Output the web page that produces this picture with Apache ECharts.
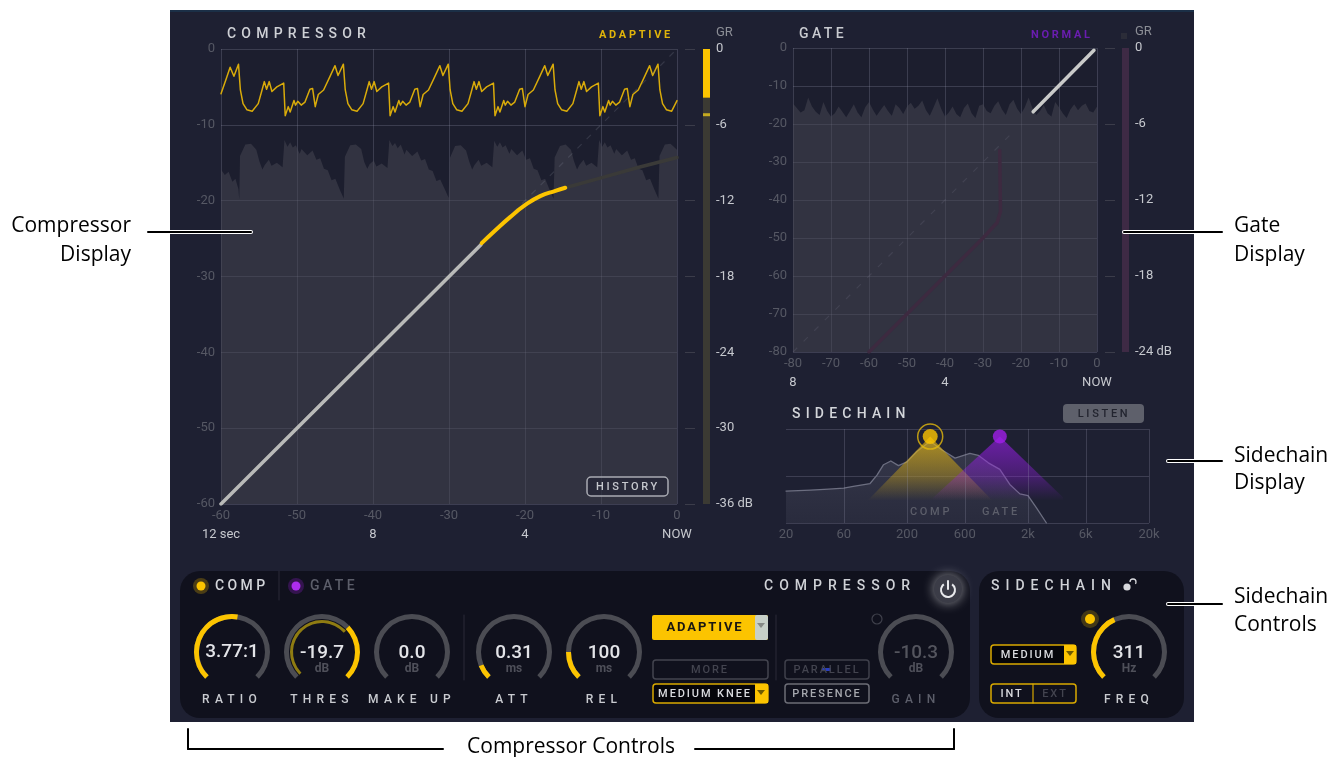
<!DOCTYPE html>
<html>
<head>
<meta charset="utf-8">
<style>
  html, body { margin: 0; padding: 0; background: #fff; }
  #main { width: 1344px; height: 757px; }
</style>
<script src="https://cdn.jsdelivr.net/npm/echarts@6/dist/echarts.min.js"></script>
</head>
<body>
<div id="main"></div>
<script>
// Compressor: [time position, dB]
var compGainHistory = [
  [-60,-5.9],[-59.3,-3.9],[-58.8,-2.4],[-58.3,-3.6],[-57.7,-2],
  [-57.45,-5.4],[-57.1,-7.2],[-56.6,-8],[-55.9,-8.2],[-55.1,-7.2],[-54.6,-5.4],[-54.3,-4.3],[-54,-5.3],[-53.65,-4.3],[-53.3,-5.6],[-52.65,-5],[-51.75,-4.5],[-51.55,-8.8],[-51.15,-7.6],[-50.9,-8.3],[-50.4,-6.8],[-50.2,-7.4],[-49.9,-6.9],[-49.45,-7.4],[-48.95,-7],[-48.3,-5.3],[-47.95,-5.2],[-47.6,-7.6],[-47.2,-6],[-46.5,-5.4],[-45.7,-3.7],[-45,-2.2],[-44.6,-3.5],[-43.9,-2],
  [-43.65,-5.4],[-43.3,-7.2],[-42.8,-8],[-42.1,-8.2],[-41.3,-7.2],[-40.8,-5.4],[-40.5,-4.3],[-40.2,-5.3],[-39.85,-4.3],[-39.5,-5.6],[-38.85,-5],[-37.95,-4.5],[-37.75,-8.8],[-37.35,-7.6],[-37.1,-8.3],[-36.6,-6.8],[-36.4,-7.4],[-36.1,-6.9],[-35.65,-7.4],[-35.15,-7],[-34.5,-5.3],[-34.15,-5.2],[-33.8,-7.6],[-33.4,-6],[-32.7,-5.4],[-31.9,-3.7],[-31.2,-2.2],[-30.8,-3.5],[-30.1,-2],
  [-29.85,-5.4],[-29.5,-7.2],[-29,-8],[-28.3,-8.2],[-27.5,-7.2],[-27,-5.4],[-26.7,-4.3],[-26.4,-5.3],[-26.05,-4.3],[-25.7,-5.6],[-25.05,-5],[-24.15,-4.5],[-23.95,-8.8],[-23.55,-7.6],[-23.3,-8.3],[-22.8,-6.8],[-22.6,-7.4],[-22.3,-6.9],[-21.85,-7.4],[-21.35,-7],[-20.7,-5.3],[-20.35,-5.2],[-20,-7.6],[-19.6,-6],[-18.9,-5.4],[-18.1,-3.7],[-17.4,-2.2],[-17,-3.5],[-16.3,-2],
  [-16.05,-5.4],[-15.7,-7.2],[-15.2,-8],[-14.5,-8.2],[-13.7,-7.2],[-13.2,-5.4],[-12.9,-4.3],[-12.6,-5.3],[-12.25,-4.3],[-11.9,-5.6],[-11.25,-5],[-10.35,-4.5],[-10.15,-8.8],[-9.75,-7.6],[-9.5,-8.3],[-9,-6.8],[-8.8,-7.4],[-8.5,-6.9],[-8.05,-7.4],[-7.55,-7],[-6.9,-5.3],[-6.55,-5.2],[-6.2,-7.6],[-5.8,-6],[-5.1,-5.4],[-4.3,-3.7],[-3.6,-2.2],[-3.2,-3.5],[-2.5,-2],
  [-2.25,-5.4],[-1.9,-7.2],[-1.4,-8],[-0.7,-8.2],[0,-6.8]
];
var compEnvelope = [
  [-60,-15.9],[-59.5,-16.6],[-59,-16.2],[-58.5,-17.5],[-58.1,-17.1],[-57.7,-18.5],[-57.6,-19.8],
  [-57.5,-14.1],[-56.8,-12.6],[-56.05,-12.5],[-55.35,-13.3],[-54.95,-14.8],[-54.55,-15.9],[-54.25,-15.3],[-53.7,-14.6],[-53.35,-15.4],[-52.65,-15],[-51.9,-15.6],[-51.65,-12],[-51.25,-12.9],[-50.9,-12.3],[-50.55,-13],[-50.15,-12.7],[-49.65,-13.8],[-49.4,-13.2],[-48.65,-14],[-47.95,-13.4],[-47.45,-14.6],[-46.95,-14.4],[-46.45,-15.8],[-45.95,-16],[-45.45,-17.3],[-44.95,-17.1],[-44.35,-18.6],[-43.85,-19.7],
  [-43.7,-14.2],[-43,-12.7],[-42.25,-12.6],[-41.55,-13.2],[-41.15,-14.9],[-40.75,-15.8],[-40.45,-15.2],[-39.9,-14.7],[-39.55,-15.5],[-38.85,-15.1],[-38.1,-15.7],[-37.85,-12],[-37.45,-12.8],[-37.1,-12.4],[-36.75,-13.1],[-36.35,-12.6],[-35.85,-13.9],[-35.6,-13.3],[-34.85,-14.1],[-34.15,-13.5],[-33.65,-14.7],[-33.15,-14.5],[-32.65,-15.9],[-32.15,-16.1],[-31.65,-17.4],[-31.15,-17.2],[-30.55,-18.5],[-30.05,-19.6],
  [-29.9,-14.4],[-29.2,-12.8],[-28.45,-12.7],[-27.75,-13.4],[-27.35,-14.8],[-26.95,-15.9],[-26.65,-15.3],[-26.1,-14.6],[-25.75,-15.4],[-25.05,-15],[-24.3,-15.6],[-24.05,-12.1],[-23.65,-12.9],[-23.3,-12.3],[-22.95,-13],[-22.55,-12.7],[-22.05,-13.8],[-21.8,-13.2],[-21.05,-14],[-20.35,-13.4],[-19.85,-14.6],[-19.35,-14.4],[-18.85,-15.8],[-18.35,-16],[-17.85,-17.3],[-17.35,-17.1],[-16.75,-18.6],[-16.25,-19.7],
  [-16.1,-14.3],[-15.4,-12.8],[-14.65,-12.6],[-13.95,-13.3],[-13.55,-14.8],[-13.15,-15.9],[-12.85,-15.3],[-12.3,-14.6],[-11.95,-15.4],[-11.25,-15],[-10.5,-15.6],[-10.25,-12],[-9.85,-12.9],[-9.5,-12.3],[-9.15,-13],[-8.75,-12.7],[-8.25,-13.8],[-8,-13.2],[-7.25,-14],[-6.55,-13.4],[-6.05,-14.6],[-5.55,-14.4],[-5.05,-15.8],[-4.55,-16],[-4.05,-17.3],[-3.55,-17.1],[-2.95,-18.6],[-2.45,-19.7],
  [-2.3,-14.1],[-1.6,-12.6],[-0.85,-12.5],[0,-13.3]
];
var compCurveLow = [[-60,-60],[-25.8,-25.8]];
var compCurveActive = [[-25.7,-25.6],[-24,-24],[-22,-22.2],[-20,-20.6],[-18,-19.4],[-16,-18.7],[-14.7,-18.3]];
var compCurveHigh = [[-14.7,-18.3],[-10,-17],[-5,-15.6],[0,-14.3]];
var compUnity = [[-24,-24],[0,0]];
var compTimeLabels = { '-60': '12 sec', '-40': '8', '-20': '4', '0': 'NOW' };
var compMeterValue = -3.85;
var compMeterPeak = -5.2;

// Gate
var gateEnvelope = [-14.6,-15.8,-17,-16.4,-13,-15.4,-16.8,-17.6,-14.2,-16.6,-18,-17.2,-15.4,-16.8,-18.2,-16.6,-14.8,-17,-18.2,-15.6,-14.2,-16.2,-17.8,-16.4,-15,-16.6,-17.8,-14.8,-15.8,-17.4,-15.4,-14.4,-16,-15.2,-13.8,-16.4,-17.8,-15.6,-13.2,-16,-18,-17,-15.4,-17.4,-18.2,-15.8,-14.6,-17.2,-18.4,-15.2,-14.8,-16.6,-17.2,-15.2,-14,-16.2,-17.6,-14.8,-13.6,-16,-17.4,-15.6,-13,-15.8,-17.6,-16.6,-15,-17.2,-18,-14.2,-15.6,-17.2,-18.4,-16.2,-14.8,-16.4,-15.2,-14.6,-16.6,-17,-15.4];
var gateCurveOpen = [[-16.8,-16.8],[-0.8,-0.6]];
var gateCurveClosed = [[-60,-80],[-50,-70],[-40,-60],[-30,-50],[-26.3,-46],[-25.4,-43],[-25.6,-27]];
var gateUnity = [[-80,-80],[-22,-22]];
var gateTimeLabels = { '-80': '8', '-40': '4', '0': 'NOW' };

// Sidechain: [Hz, height %]
var sideSpectrum = [[20,34],[32,35],[45,36],[60,37],[72,39],[99,42],[113,51],[128,62],[147,66],[170,61],[200,65],[241,76],[311,87],[387,78],[499,69],[662,74],[776,72],[940,64],[1170,57],[1415,41],[1714,31],[2000,29],[2350,16],[2840,0]];
var sideCompShape = [[93,23],[311,92],[1033,23]];
var sideGateShape = [[330,27],[1170,92],[3900,27]];
var sideFreqTicks = [20,60,200,600,2000,6000,20000];

// Knobs
var knobNames = ['RATIO','THRES','MAKE UP','ATT','REL','GAIN','FREQ'];
var knobTexts = ['3.77:1','-19.7','0.0','0.31','100','-10.3','311'];
var knobUnits = ['','dB','dB','ms','ms','dB','Hz'];
var knobFractions = [0.533,0.67,0,0.085,0.167,0,0.41];
var knobCenters = [232,322,412,514,604,916,1129];

var NUMBER_FONT = 'Roboto, sans-serif';
var GRID_LINE = 'rgba(150,152,175,0.26)';
var TICK_TEXT = '#565864';
var LIGHT_TEXT = '#c6c8ce';
var YELLOW = '#fcc400';
var PURPLE = '#a01ee8';
var AREA_FILL = 'rgba(72,72,84,0.5)';

function lg(v) { return Math.log10(v); }
function toLog(list) { return list.map(function (p) { return [lg(p[0]), p[1]]; }); }

function tickAxis(grid, min, max, step) {
  return {
    type: 'value', gridIndex: grid, min: min, max: max, interval: step,
    axisLine: { show: false }, axisTick: { show: false },
    splitLine: { show: true, lineStyle: { color: GRID_LINE, width: 1 } },
    axisLabel: { color: TICK_TEXT, fontFamily: NUMBER_FONT, fontSize: 13, margin: 6 }
  };
}
function timeAxis(grid, min, max, step, labels) {
  return {
    type: 'value', gridIndex: grid, min: min, max: max, interval: step, position: 'bottom', offset: 18,
    axisLine: { show: false }, axisTick: { show: false }, splitLine: { show: false },
    axisLabel: { color: LIGHT_TEXT, fontFamily: NUMBER_FONT, fontSize: 13, margin: 6, formatter: function (v) { return labels[v] || ''; } }
  };
}
function meterCategory(grid) {
  return { type: 'category', gridIndex: grid, data: ['GR'], show: false };
}
function meterLabels(grid, min, unitAt) {
  return {
    type: 'value', gridIndex: grid, min: min, max: 0, interval: 6, position: 'right',
    name: 'GR', nameLocation: 'end', nameGap: 10,
    nameTextStyle: { color: '#8c8e96', fontFamily: NUMBER_FONT, fontSize: 13, align: 'left', padding: [0, 0, 0, 6] },
    axisLine: { show: false }, axisTick: { show: false }, splitLine: { show: false },
    axisLabel: { color: LIGHT_TEXT, fontFamily: NUMBER_FONT, fontSize: 13, margin: 6, formatter: function (v) { return v === unitAt ? v + ' dB' : String(v); } }
  };
}
function meterTicks(grid, min, offset) {
  return {
    type: 'value', gridIndex: grid, min: min, max: 0, interval: 6, position: 'left', offset: offset,
    axisLine: { show: false }, axisLabel: { show: false }, splitLine: { show: false },
    axisTick: { show: true, length: 10, lineStyle: { color: '#3b3c4a' } }
  };
}
function line(name, x, y, data, color, width, extra) {
  var s = {
    name: name, type: 'line', xAxisIndex: x, yAxisIndex: y, data: data, showSymbol: false, smooth: false,
    silent: true, z: 3, lineStyle: { color: color, width: width, cap: 'round', join: 'round' }
  };
  if (extra) for (var k in extra) s[k] = extra[k];
  return s;
}
function triangleFill(rgb) {
  return { type: 'linear', x: 0, y: 0, x2: 0, y2: 1, colorStops: [
    { offset: 0, color: 'rgba(' + rgb + ',0.66)' },
    { offset: 0.45, color: 'rgba(' + rgb + ',0.34)' },
    { offset: 0.74, color: 'rgba(' + rgb + ',0)' },
    { offset: 1, color: 'rgba(' + rgb + ',0)' }
  ] };
}

function knob(i) {
  var fraction = knobFractions[i], cx = knobCenters[i];
  var name = knobNames[i];
  var track = [[1, '#4b4c53']];
  var progress = fraction;
  if (name === 'THRES') { track = [[fraction, '#4b4c53'], [1, YELLOW]]; progress = 0; }
  var textColor = name === 'GAIN' ? '#54555e' : '#e3e4e8';
  var text = knobTexts[i], unit = knobUnits[i];
  return {
    type: 'gauge', center: [cx, 652], radius: 38, startAngle: 225, endAngle: -45, min: 0, max: 1, z: 5,
    silent: true, animation: false,
    axisLine: { lineStyle: { width: 5, color: track } },
    progress: { show: progress > 0, width: 5, itemStyle: { color: YELLOW } },
    axisTick: { show: false }, splitLine: { show: false }, axisLabel: { show: false },
    pointer: { show: false }, anchor: { show: false }, title: { show: false },
    detail: {
      offsetCenter: [0, unit ? 7 : 0],
      formatter: function () { return '{v|' + text + '}' + (unit ? '\n{u|' + unit + '}' : ''); },
      rich: {
        v: { fontFamily: NUMBER_FONT, fontSize: 19, fontWeight: 500, color: textColor, lineHeight: 20 },
        u: { fontFamily: NUMBER_FONT, fontSize: 12, color: '#4f505a', lineHeight: 12 }
      }
    },
    data: [{ value: progress }]
  };
}
var thresInner = {
  type: 'gauge', center: [322, 652], radius: 32, startAngle: 225, endAngle: -45, min: 0, max: 1, z: 6,
  silent: true, animation: false,
  axisLine: { lineStyle: { width: 3, color: [[1, 'rgba(0,0,0,0)']] } },
  progress: { show: true, width: 3, itemStyle: { color: '#8f7c12' } },
  axisTick: { show: false }, splitLine: { show: false }, axisLabel: { show: false },
  pointer: { show: false }, anchor: { show: false }, title: { show: false }, detail: { show: false },
  data: [{ value: 0.68 }]
};

// Graphic helpers for the plugin chrome around the plots
var els = [];
function box(x, y, w, h, fill, stroke, r, z) {
  els.push({ type: 'rect', silent: true, z: z === undefined ? 10 : z, shape: { x: x, y: y, width: w, height: h, r: r || 0 }, style: { fill: fill || 'none', stroke: stroke || 'none', lineWidth: 1.5 } });
}
function txt(x, y, s, color, size, align, track, weight, family) {
  els.push({ type: 'text', silent: true, z: 20, zlevel: track || 0, x: x, y: y, style: {
    text: s, fill: color, fontSize: size, fontWeight: weight || 'normal', fontFamily: family || 'Roboto, sans-serif',
    textAlign: align || 'left', textVerticalAlign: 'middle'
  } });
}
function seg(x1, y1, x2, y2, color, width, z) {
  els.push({ type: 'line', silent: true, z: z === undefined ? 10 : z, shape: { x1: x1, y1: y1, x2: x2, y2: y2 }, style: { stroke: color, lineWidth: width || 1, lineCap: 'round' } });
}
function dot(x, y, r, fill, glow) {
  els.push({ type: 'circle', silent: true, z: 12, shape: { cx: x, cy: y, r: r }, style: { fill: fill, shadowBlur: glow ? 10 : 0, shadowColor: glow || 'transparent' } });
}
function arrow(x, y, color) {
  els.push({ type: 'polygon', silent: true, z: 13, shape: { points: [[x - 4, y - 2], [x + 4, y - 2], [x, y + 3]] }, style: { fill: color } });
}
function leader(x1, y1, x2, y2) {
  seg(x1, y1, x2, y2, '#fff', 4, 30);
  seg(x1, y1, x2, y2, '#000', 2, 31);
}

// Panels
box(170, 10, 1024, 712, '#1e2032', null, 0, -20);
box(170, 10, 1024, 2, '#1b2f47', null, 0, -19);
box(180, 571, 790, 147, '#10111d', null, 20, -18);
box(979, 571, 205, 147, '#10111d', null, 20, -18);

// Section titles
txt(227, 34, 'COMPRESSOR', '#cfd1d6', 14, 'left', 1, 500);
txt(599, 35, 'ADAPTIVE', '#e0b40a', 11, 'left', 5, 'bold');
txt(799, 34, 'GATE', '#c9cbd0', 14, 'left', 2, 500);
txt(1031, 35, 'NORMAL', '#6a1db0', 11, 'left', 5, 'bold');
box(1121, 33, 6, 6, '#2b2c38', null, 0, 5);
txt(792, 414, 'SIDECHAIN', '#d3d5da', 14, 'left', 1, 500);

box(587, 477, 81, 19, 'rgba(30,32,50,0.5)', '#a9abb2', 4);
txt(628, 487, 'HISTORY', '#c6c8ce', 11, 'center', 5, 500);
box(1063, 404, 81, 19, '#5e606b', null, 4);
txt(1104, 414, 'LISTEN', '#22242f', 11, 'center', 5, 500);
txt(931, 512, 'COMP', '#5c5e6a', 11, 'center', 5, 500);
txt(1001, 512, 'GATE', '#5c5e6a', 11, 'center', 5, 500);

// Controls header
dot(201, 586, 8, 'rgba(252,196,0,0.25)');
dot(201, 586, 4.5, YELLOW);
txt(215, 586, 'COMP', '#d3d5da', 14, 'left', 2, 500);
seg(279, 571, 279, 600, '#2a2b38', 1);
dot(296, 586, 8, 'rgba(160,30,232,0.25)');
dot(296, 586, 4.5, '#ad2cf0');
txt(310, 586, 'GATE', '#5c5e6a', 14, 'left', 2, 500);
txt(764, 586, 'COMPRESSOR', '#cfd1d6', 14, 'left', 4, 500);
txt(991, 586, 'SIDECHAIN', '#cfd1d6', 14, 'left', 4, 500);

// Lock icon
dot(1127, 587, 3.6, '#d8d9dd');
els.push({ type: 'arc', silent: true, z: 12, shape: { cx: 1133, cy: 582, r: 3, startAngle: Math.PI, endAngle: Math.PI * 2.2 }, style: { stroke: '#d8d9dd', fill: 'none', lineWidth: 1.3 } });

// Power button
els.push({ type: 'circle', silent: true, z: 11, shape: { cx: 948, cy: 589, r: 14 }, style: { fill: '#3b3c47', shadowBlur: 12, shadowColor: 'rgba(255,255,255,0.55)' } });
els.push({ type: 'arc', silent: true, z: 12, shape: { cx: 948, cy: 590, r: 7, startAngle: -Math.PI * 0.3, endAngle: Math.PI * 1.3 }, style: { stroke: '#e8e9ec', fill: 'none', lineWidth: 2 } });
seg(948, 581, 948, 589, '#e8e9ec', 2, 12);

// Knob captions
knobNames.forEach(function (n, i) {
  var c = n === 'GAIN' ? '#5c5e6a' : '#c9cbd0';
  txt(knobCenters[i], 700, n, c, 12, 'center', 1, 500);
});
seg(464, 615, 464, 680, '#2a2b38', 1);
seg(776, 615, 776, 680, '#2a2b38', 1);

// Buttons
box(652, 615, 116, 25, YELLOW, null, 2);
box(755, 615, 13, 25, '#c7d0c8', null, 2);
arrow(761, 625, '#868a86');
txt(705, 628, 'ADAPTIVE', '#1a1712', 13, 'center', 3, 'bold');
box(653, 660, 115, 19, '#10111d', '#43444f', 3);
txt(710, 670, 'MORE', '#43444f', 11, 'center', 3, 500);
box(653, 684, 115, 19, '#05050a', '#d9a900', 3);
box(755, 684, 13, 19, YELLOW, null, 0);
arrow(761, 692, '#6e5a00');
txt(705, 694, 'MEDIUM KNEE', '#d9dade', 11, 'center', 3, 500);
box(785, 660, 84, 19, '#10111d', '#3f404b', 3);
txt(827, 670, 'PARALLEL', '#43444f', 11, 'center', 3, 500);
box(822, 668, 9, 3, '#2a3ec0', null, 0, 25);
box(785, 684, 84, 19, '#10111d', '#6c6d76', 3);
txt(827, 694, 'PRESENCE', '#a6a8ae', 11, 'center', 3, 500);
els.push({ type: 'circle', silent: true, z: 12, shape: { cx: 877, cy: 619, r: 5 }, style: { fill: 'none', stroke: '#3f404b', lineWidth: 1.2 } });
box(991, 645, 85, 19, '#05050a', '#d9a900', 3);
box(1064, 645, 12, 19, YELLOW, null, 0);
arrow(1070, 653, '#6e5a00');
txt(1028, 655, 'MEDIUM', '#d9dade', 11, 'center', 3, 500);
box(991, 684, 85, 19, '#10111d', '#d9a900', 3);
seg(1033, 684, 1033, 703, '#d9a900', 1.2);
txt(1012, 694, 'INT', '#d9dade', 11, 'center', 3, 500);
txt(1055, 694, 'EXT', '#43444f', 11, 'center', 3, 500);
dot(1090, 619, 9, 'rgba(252,196,0,0.22)');
dot(1090, 619, 5, YELLOW);

// Callouts on the white page
var CALLOUT = '"Open Sans", sans-serif';
txt(131, 226, 'Compressor', '#000', 21, 'right', 0, 'normal', CALLOUT);
txt(131, 255, 'Display', '#000', 21, 'right', 0, 'normal', CALLOUT);
txt(1234, 226, 'Gate', '#000', 21, 'left', 0, 'normal', CALLOUT);
txt(1234, 255, 'Display', '#000', 21, 'left', 0, 'normal', CALLOUT);
txt(1234, 456, 'Sidechain', '#000', 21, 'left', 0, 'normal', CALLOUT);
txt(1234, 483, 'Display', '#000', 21, 'left', 0, 'normal', CALLOUT);
txt(1234, 597, 'Sidechain', '#000', 21, 'left', 0, 'normal', CALLOUT);
txt(1234, 625, 'Controls', '#000', 21, 'left', 0, 'normal', CALLOUT);
txt(571, 747, 'Compressor Controls', '#000', 21, 'center', 0, 'normal', CALLOUT);
leader(148, 232, 251, 232);
leader(1124, 232, 1222, 232);
leader(1168, 461, 1222, 461);
leader(1168, 604, 1222, 604);
seg(188, 729, 188, 749, '#000', 2, 31);
seg(188, 749, 443, 749, '#000', 2, 31);
seg(695, 749, 954, 749, '#000', 2, 31);
seg(954, 749, 954, 729, '#000', 2, 31);

var series = [
  line('comp envelope', 0, 0, compEnvelope, 'rgba(0,0,0,0)', 0, { z: 1, areaStyle: { color: AREA_FILL, origin: 'start', opacity: 1 } }),
  line('comp history', 0, 0, compGainHistory, '#d9ab0a', 1.5),
  line('comp unity', 0, 0, compUnity, 'rgba(125,127,145,0.25)', 1.2, { lineStyle: { color: 'rgba(125,127,145,0.25)', width: 1.2, type: [6, 7] } }),
  line('comp high', 0, 0, compCurveHigh, '#3a3a38', 3.5),
  line('comp low', 0, 0, compCurveLow, '#b9bab8', 3.5),
  line('comp active', 0, 0, compCurveActive, YELLOW, 4, { smooth: 0.5 }),
  { name: 'comp meter track', type: 'bar', xAxisIndex: 2, yAxisIndex: 1, data: [-36], barWidth: 7, barGap: '-100%', silent: true, itemStyle: { color: '#3b3a33' } },
  { name: 'comp meter', type: 'bar', xAxisIndex: 2, yAxisIndex: 1, data: [compMeterValue], barWidth: 7, barGap: '-100%', silent: true, itemStyle: { color: YELLOW } },
  { name: 'comp meter peak', type: 'scatter', xAxisIndex: 2, yAxisIndex: 1, data: [['GR', compMeterPeak]], symbol: 'rect', symbolSize: [7, 3], silent: true, itemStyle: { color: '#e8c71c' } },

  line('gate envelope', 3, 3, gateEnvelope.map(function (v, i) { return [i - 80, v]; }), 'rgba(0,0,0,0)', 0, { z: 1, areaStyle: { color: AREA_FILL, origin: 'start', opacity: 1 } }),
  line('gate unity', 3, 3, gateUnity, 'rgba(125,127,145,0.2)', 1.2, { lineStyle: { color: 'rgba(125,127,145,0.2)', width: 1.2, type: [6, 9] } }),
  line('gate closed', 3, 3, gateCurveClosed, '#3d2a40', 3.5),
  line('gate open', 3, 3, gateCurveOpen, '#c9cac9', 3.5),
  { name: 'gate meter track', type: 'bar', xAxisIndex: 5, yAxisIndex: 4, data: [-24], barWidth: 7, silent: true, itemStyle: { color: '#3e2a45' } },

  line('spectrum', 6, 6, toLog(sideSpectrum), '#6c6e80', 1.3, { z: 2, areaStyle: { origin: 'start', color: { type: 'linear', x: 0, y: 0, x2: 0, y2: 1, colorStops: [{ offset: 0, color: 'rgba(96,98,118,0.55)' }, { offset: 1, color: 'rgba(70,72,90,0.4)' }] } },
    markLine: { silent: true, symbol: 'none', animation: false, label: { show: false }, lineStyle: { color: GRID_LINE, width: 1, type: 'solid' }, data: sideFreqTicks.map(function (t) { return { xAxis: lg(t) }; }) } }),
  line('comp band', 6, 6, toLog(sideCompShape), 'rgba(0,0,0,0)', 0, { z: 3, areaStyle: { origin: 'start', color: triangleFill('240,190,10'), opacity: 1 } }),
  line('gate band', 6, 6, toLog(sideGateShape), 'rgba(0,0,0,0)', 0, { z: 3, areaStyle: { origin: 'start', color: triangleFill('150,30,230'), opacity: 1 } }),
  { name: 'comp freq', type: 'scatter', xAxisIndex: 6, yAxisIndex: 6, data: [[lg(sideCompShape[1][0]), sideCompShape[1][1]]], symbolSize: 15, z: 6, silent: true, itemStyle: { color: YELLOW } },
  { name: 'comp freq ring', type: 'scatter', xAxisIndex: 6, yAxisIndex: 6, data: [[lg(sideCompShape[1][0]), sideCompShape[1][1]]], symbolSize: 25, z: 6, silent: true, itemStyle: { color: 'rgba(0,0,0,0)', borderColor: '#e3b90c', borderWidth: 1.5 } },
  { name: 'gate freq', type: 'scatter', xAxisIndex: 6, yAxisIndex: 6, data: [[lg(sideGateShape[1][0]), sideGateShape[1][1]]], symbolSize: 14, z: 6, silent: true, itemStyle: { color: PURPLE } }
];
knobNames.forEach(function (n, i) { series.push(knob(i)); });
series.push(thresInner);

var compX = tickAxis(0, -60, 0, 10);
var compY = tickAxis(0, -60, 0, 10);
var gateX = tickAxis(2, -80, 0, 10);
var gateY = tickAxis(2, -80, 0, 10);
compX.axisLabel.margin = 5;
gateX.axisLabel.margin = 5;

var sideX = {
  type: 'value', gridIndex: 4, min: lg(20), max: lg(20000),
  axisLine: { show: false }, axisTick: { show: false }, splitLine: { show: false },
  axisLabel: {
    color: TICK_TEXT, fontFamily: NUMBER_FONT, fontSize: 13, margin: 5, hideOverlap: false,
    customValues: sideFreqTicks.map(lg),
    formatter: function (v) {
      var hz = Math.round(Math.pow(10, v));
      return hz >= 1000 ? Math.round(hz / 1000) + 'k' : String(hz);
    }
  }
};

var chart = echarts.init(document.getElementById('main'), null, { renderer: 'canvas' });

// Canvas letter spacing lives on the layer context, so each tracking width gets its own zlevel
var trackingByLevel = { 1: '5.2px', 2: '3.4px', 3: '1.9px', 4: '6px', 5: '2.7px' };
Object.keys(trackingByLevel).forEach(function (z) {
  chart.getZr().painter.getLayer(+z).ctx.letterSpacing = trackingByLevel[z];
});

chart.setOption({
  animation: false,
  backgroundColor: '#ffffff',
  tooltip: { show: false },
  grid: [
    { left: 221, top: 49, width: 456, height: 455, show: true, backgroundColor: '#1c1e2e', borderWidth: 0 },
    { left: 703, top: 49, width: 7, height: 455 },
    { left: 793, top: 48, width: 304, height: 304, show: true, backgroundColor: '#1c1e2e', borderWidth: 0 },
    { left: 1122, top: 48, width: 7, height: 304 },
    { left: 786, top: 429, width: 363, height: 94 }
  ],
  xAxis: [
    compX,
    timeAxis(0, -60, 0, 20, compTimeLabels),
    meterCategory(1),
    gateX,
    timeAxis(2, -80, 0, 40, gateTimeLabels),
    meterCategory(3),
    sideX
  ],
  yAxis: [
    compY,
    meterLabels(1, -36, -36),
    meterTicks(1, -36, 8),
    gateY,
    meterLabels(3, -24, -24),
    meterTicks(3, -24, 7),
    { type: 'value', gridIndex: 4, min: 0, max: 100, interval: 50,
      axisLine: { show: false }, axisTick: { show: false }, axisLabel: { show: false },
      splitLine: { show: true, lineStyle: { color: GRID_LINE } } }
  ],
  graphic: { elements: els },
  series: series
});
</script>
</body>
</html>
